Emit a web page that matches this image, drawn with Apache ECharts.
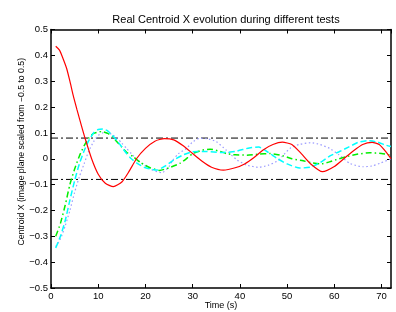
<!DOCTYPE html>
<html><head><meta charset="utf-8">
<script src="https://cdn.jsdelivr.net/npm/echarts@6/dist/echarts.min.js"></script>
<style>html,body{margin:0;padding:0;background:#fff}#c{width:396px;height:312px}</style>
</head><body><div id="c"></div>
<script>
const titleText = 'Real Centroid X evolution during different tests';
const xName = 'Time (s)';
const yName = 'Centroid X (image plane scaled from \u22120.5 to 0.5)';
const thresholds = [0.08, -0.08];
const xRange = [0, 72];

const redT = [1,1.8,2.5,3.3,4,4.7,5.5,6.5,7.2,8.6,10,11.5,13.2,15,16.5,18.1,20,22,24,26,28,30,32,34,36.5,39,41,43,45,47,49,51,53,55,57.5,60,62,64,66,68,69.5,71,72];
const redV = [0.435,0.42,0.39,0.35,0.30,0.245,0.19,0.124,0.08,0.0,-0.06,-0.095,-0.108,-0.09,-0.05,0.0,0.04,0.068,0.078,0.073,0.05,0.02,-0.01,-0.033,-0.044,-0.035,-0.02,0.005,0.035,0.055,0.064,0.055,0.02,-0.02,-0.05,-0.03,0.0,0.03,0.055,0.063,0.055,0.025,0.0];

const cyanT = [1,2,3,4,5,6,7,8,9,10,11,12,13,14,15,16,17,18.2,20,22.4,24,26,28,30,33,36,39,42,44,46,48,50,52.7,55,57,59,61,63,65,67,69,71,72];
const cyanV = [-0.345,-0.3,-0.24,-0.16,-0.085,-0.02,0.03,0.07,0.1,0.113,0.115,0.108,0.09,0.07,0.045,0.02,0.0,-0.017,-0.035,-0.044,-0.03,-0.005,0.015,0.027,0.028,0.024,0.028,0.042,0.045,0.025,0.0,-0.02,-0.036,-0.032,-0.015,0.01,0.027,0.045,0.063,0.07,0.065,0.052,0.047];

const greenT = [1,2,3,4,5,6,7,8,9,10.7,12,13,14,15,16,17.4,19,21,23,25,27.3,29,30,32,33.7,35.5,37.2,39,41.5,44,46.3,49,51,53.4,55,57,59,61,63,65,67.5,70,72];
const greenV = [-0.30,-0.25,-0.18,-0.10,-0.04,0.01,0.05,0.08,0.098,0.105,0.098,0.085,0.065,0.045,0.025,0.008,-0.015,-0.035,-0.045,-0.035,-0.018,0.005,0.02,0.033,0.037,0.03,0.02,0.015,0.014,0.018,0.02,0.012,0.0,-0.008,-0.015,-0.02,-0.012,0.0,0.01,0.018,0.023,0.02,0.014];

const blueT = [1,2,3,4,5,6,7,8,9,10,11,12,13,14,15,16,17,18,19.5,21,23.5,25,25.8,27,28.7,30,31.5,33,35,37,39.4,41.5,44,46,47.8,49,50.6,52.5,55,57,59,61,63.3,66,68,69.6,72];
const blueV = [-0.34,-0.31,-0.26,-0.2,-0.13,-0.07,-0.02,0.03,0.065,0.09,0.1,0.1,0.093,0.08,0.06,0.04,0.02,0.0,-0.02,-0.04,-0.054,-0.03,-0.005,0.02,0.04,0.065,0.079,0.078,0.066,0.035,-0.005,-0.025,-0.033,-0.025,-0.01,0.01,0.04,0.055,0.062,0.055,0.04,0.015,-0.018,-0.031,-0.028,-0.018,0.0];

const zip = (t, v) => t.map((x, i) => [x, v[i]]);
const fmtY = v => {
  const s = Math.abs(v) < 1e-9 ? '0' : (Math.round(v * 10) / 10).toString();
  return s.replace('-', '\u2212');
};
const font = 'Liberation Sans, Arial, Helvetica, sans-serif';

const chart = echarts.init(document.getElementById('c'), null, {renderer: 'canvas'});
const baseLine = (name, t, v, color, type, width) => ({
  name, type: 'line', data: zip(t, v), showSymbol: false, smooth: 0.2,
  lineStyle: {color, width, type}, silent: true, animation: false, z: 3
});
const series = [
  baseLine('blue', blueT, blueV, '#9a9aff', [1.5, 2.5], 1.2),
  baseLine('green', greenT, greenV, '#00ee00', [6, 3, 1.5, 3], 1.5),
  baseLine('cyan', cyanT, cyanV, '#00ffff', [6, 3], 1.5),
  baseLine('red', redT, redV, '#ff0000', 'solid', 1.2)
];
thresholds.forEach((th, i) => {
  series.push({
    name: 'th' + i, type: 'line', data: [[xRange[0], th], [xRange[1], th]],
    showSymbol: false, lineStyle: {color: '#000', width: 1, type: [7, 3, 2, 3]},
    silent: true, animation: false, z: 2
  });
});

const axisLineStyle = {show: true, onZero: false, lineStyle: {color: '#000', width: 1.5}};
const tick = {show: true, inside: true, length: 4, lineStyle: {color: '#000'}};
chart.setOption({
  animation: false,
  backgroundColor: '#fff',
  title: {text: titleText, left: 221, top: 9, textAlign: 'center',
    textStyle: {fontFamily: font, fontSize: 11, fontWeight: 'normal', color: '#000'}},
  grid: {left: 51, right: 5, top: 29.5, bottom: 24, containLabel: false, outerBoundsMode: 'none'},
  xAxis: [{
    type: 'value', min: xRange[0], max: xRange[1], interval: 10,
    name: xName, nameLocation: 'middle', nameGap: 13, nameMoveOverlap: false,
    nameTextStyle: {fontFamily: font, fontSize: 9, color: '#000'},
    axisLine: axisLineStyle, axisTick: tick,
    axisLabel: {fontFamily: font, fontSize: 9.5, color: '#000', margin: 3, showMaxLabel: false},
    splitLine: {show: false}
  }, {
    type: 'value', position: 'top', min: xRange[0], max: xRange[1], interval: 10,
    axisLine: axisLineStyle, axisTick: tick,
    axisLabel: {show: false}, splitLine: {show: false}
  }],
  yAxis: [{
    type: 'value', min: -0.5, max: 0.5, interval: 0.1,
    name: yName, nameLocation: 'middle', nameGap: 25, nameMoveOverlap: false,
    nameTextStyle: {fontFamily: font, fontSize: 8.7, color: '#000', padding: [0, 0, 0, 14]},
    axisLine: axisLineStyle, axisTick: tick,
    axisLabel: {fontFamily: font, fontSize: 9.5, color: '#000', margin: 3, formatter: fmtY},
    splitLine: {show: false}
  }, {
    type: 'value', position: 'right', min: -0.5, max: 0.5, interval: 0.1,
    axisLine: axisLineStyle, axisTick: tick,
    axisLabel: {show: false}, splitLine: {show: false}
  }],
  series
});
</script></body></html>
